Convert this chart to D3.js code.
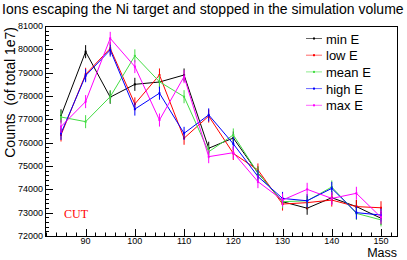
<!DOCTYPE html>
<html>
<head>
<meta charset="utf-8">
<script src="https://cdn.jsdelivr.net/npm/d3@7"></script>
<style>
	body { margin: 0; background: #fff; }
	svg { display: block; font-family: "Liberation Sans", Arial, sans-serif; }
	text { white-space: pre; }
</style>
</head>
<body>
<svg width="407" height="260"></svg>
<script>
// mass points and counts per energy setting
const mass = [85, 90, 95, 100, 105, 110, 115, 120, 125, 130, 135, 140, 145, 150];
const minE  = [77150, 79900, 77950, 78500, 78600, 78900, 75760, 76200, 74700, 73470, 73190, 73640, 73260, 72760];
const lowE  = [76330, 78930, 80040, 77660, 78900, 76190, 77140, 75540, 74830, 73370, 73430, 73540, 73260, 73210];
const meanE = [77100, 76900, 77970, 79720, 78610, 77970, 75610, 76330, 74700, 73470, 73510, 74100, 72970, 72690];
const highE = [76400, 78870, 79970, 77440, 78120, 76400, 77190, 75950, 74550, 73610, 73510, 74040, 73000, 72900];
const maxE  = [76690, 77760, 80470, 79260, 76970, 78830, 75400, 75570, 74330, 73540, 74000, 73610, 73830, 72800];
const errY = 280;

const seriesNames = ["min E", "low E", "mean E", "high E", "max E"];
const seriesValues = [minE, lowE, meanE, highE, maxE];
const colors = ["#000000", "#ff0000", "#44dd44", "#0000ff", "#ff00ff"];

const xTicks = [90, 100, 110, 120, 130, 140, 150];
const yTicks = [72000, 73000, 74000, 75000, 76000, 77000, 78000, 79000, 80000, 81000];

const svg = d3.select("svg");
const padL = 45, padR = 397, padT = 26, padB = 236;

var x = d3.scaleLinear().domain([81.75, 153.25]).range([padL, padR]);
var y = d3.scaleLinear().domain([72000, 81000]).range([padB, padT]);

// title
svg.append("text")
	.attr("x", 2).attr("y", 14)
	.attr("font-size", 14)
	.text("Ions escaping the Ni target and stopped in the simulation volume");

// frame
svg.append("rect")
	.attr("x", padL + 0.5).attr("y", padT + 0.5)
	.attr("width", padR - padL).attr("height", padB - padT)
	.attr("fill", "none").attr("stroke", "#000");

// x ticks (minor every 2, major every 10)
var xMinor = d3.range(82, 153.3, 2);
svg.append("g").selectAll("line")
	.data(xMinor)
	.enter().append("line")
	.attr("x1", d => Math.round(x(d)) + 0.5).attr("x2", d => Math.round(x(d)) + 0.5)
	.attr("y1", padB).attr("y2", d => padB - (d % 10 === 0 ? 7 : 3.5))
	.attr("stroke", "#000");

svg.append("g").selectAll("text")
	.data(xTicks)
	.enter().append("text")
	.attr("x", d => x(d)).attr("y", 243.5)
	.attr("text-anchor", "middle")
	.attr("font-size", 9)
	.text(d => d);

// y ticks (minor every 200)
var yMinor = d3.range(72000, 81001, 200);
svg.append("g").selectAll("line")
	.data(yMinor)
	.enter().append("line")
	.attr("x1", padL).attr("x2", d => padL + (d % 1000 === 0 ? 8 : 4))
	.attr("y1", d => Math.round(y(d)) + 0.5).attr("y2", d => Math.round(y(d)) + 0.5)
	.attr("stroke", "#000");

svg.append("g").selectAll("text")
	.data(yTicks)
	.enter().append("text")
	.attr("x", 43).attr("y", d => y(d) + 3)
	.attr("text-anchor", "end")
	.attr("font-size", 9)
	.text(d => d);

// axis titles
svg.append("text")
	.attr("transform", "translate(15," + (padT + 1) + ") rotate(-90)")
	.attr("text-anchor", "end")
	.attr("font-size", 14)
	.text("Counts  (of total 1e7)");

svg.append("text")
	.attr("x", padR).attr("y", 257)
	.attr("text-anchor", "end")
	.attr("font-size", 12.5)
	.text("Mass");

svg.append("text")
	.attr("x", 64).attr("y", 218)
	.attr("font-family", "'Liberation Serif', 'Times New Roman', serif")
	.attr("font-size", 12)
	.attr("fill", "#ff0000")
	.text("CUT");

// series
var line = d3.line()
	.x((d, i) => x(mass[i]))
	.y(d => y(d));

seriesValues.forEach(function(vals, s) {
	var g = svg.append("g").attr("stroke", colors[s]).attr("fill", colors[s]);

	g.selectAll("line.err")
		.data(vals)
		.enter().append("line")
		.attr("class", "err")
		.attr("x1", (d, i) => x(mass[i])).attr("x2", (d, i) => x(mass[i]))
		.attr("y1", d => y(d - errY)).attr("y2", d => y(d + errY))
		.attr("stroke-width", 1);

	g.append("path")
		.attr("d", line(vals))
		.attr("fill", "none")
		.attr("stroke-width", 1);

	g.selectAll("rect.pt")
		.data(vals)
		.enter().append("rect")
		.attr("class", "pt")
		.attr("x", (d, i) => x(mass[i]) - 1).attr("y", d => y(d) - 1)
		.attr("width", 2).attr("height", 2)
		.attr("stroke", "none");
});

// legend
var legend = svg.append("g").selectAll("g")
	.data(seriesNames)
	.enter().append("g")
	.attr("transform", (d, i) => "translate(306," + (38.5 + i * 16.7) + ")");

legend.append("line")
	.attr("x1", 0).attr("x2", 16)
	.attr("stroke", (d, i) => colors[i])
	.attr("stroke-opacity", 0.6);

legend.append("rect")
	.attr("x", 7).attr("y", -1).attr("width", 2).attr("height", 2)
	.attr("fill", (d, i) => colors[i]);

legend.append("text")
	.attr("x", 20).attr("y", 5)
	.attr("font-size", 13)
	.text(d => d);
</script>
</body>
</html>
